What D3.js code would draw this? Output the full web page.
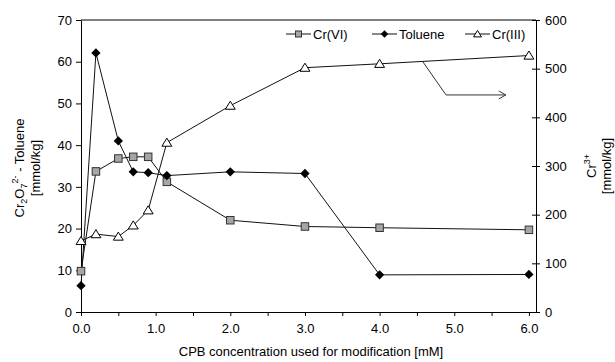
<!DOCTYPE html>
<html>
<head>
<meta charset="utf-8">
<script src="https://cdn.jsdelivr.net/npm/d3@7"></script>
<style>
  body { margin: 0; background: #fff; }
  svg { display: block; font-family: "Liberation Sans", Arial, sans-serif; }
</style>
</head>
<body>
<svg id="chart"></svg>
<script>
// data
const conc = [0, 0.2, 0.5, 0.7, 0.9, 1.15, 2, 3, 4, 6];
const crVI = [9.8, 33.7, 36.8, 37.2, 37.2, 31.2, 22.0, 20.5, 20.2, 19.7];
const toluene = [6.3, 62.1, 41.0, 33.6, 33.4, 32.7, 33.6, 33.2, 8.9, 9.0];
const crIII = [146, 160, 155, 178, 209, 348, 424, 502, 510, 527];
const xTicks = [0, 1, 2, 3, 4, 5, 6];
const yLeftTicks = [0, 10, 20, 30, 40, 50, 60, 70];
const yRightTicks = [0, 100, 200, 300, 400, 500, 600];
const arrowPath = [[4.58, 514], [4.89, 446], [5.69, 446]]; // in (x, Cr(III)) units

const width = 615;
const height = 362;
const margin = ({ top: 20, right: 79, bottom: 50, left: 81 });

const svg = d3.select("#chart")
    .attr("width", width)
    .attr("height", height);

const x = d3.scaleLinear()
    .domain([0, 6.095])
    .range([margin.left, width - margin.right]);

const yL = d3.scaleLinear()
    .domain([0, 70])
    .range([height - margin.bottom, margin.top]);

const yR = d3.scaleLinear()
    .domain([0, 600])
    .range([height - margin.bottom, margin.top]);

// top border of the plot
svg.append("line")
    .attr("x1", margin.left).attr("x2", width - margin.right)
    .attr("y1", margin.top).attr("y2", margin.top)
    .attr("stroke", "#000");

// x axis, minor ticks every 0.5
svg.append("g")
    .attr("transform", `translate(0,${height - margin.bottom})`)
    .call(d3.axisBottom(x).tickValues(d3.range(0, 6.01, 0.5)).tickSize(4).tickSizeOuter(0)
        .tickFormat(d => xTicks.includes(d) ? d.toFixed(1) : ""))
    .call(g => g.selectAll("text").attr("font-size", 13).attr("dy", "1.1em").attr("fill", "#000"));

// left axis
svg.append("g")
    .attr("transform", `translate(${margin.left},0)`)
    .call(d3.axisLeft(yL).tickValues(yLeftTicks).tickSize(5).tickSizeOuter(0).tickPadding(4))
    .call(g => g.selectAll("text").attr("font-size", 13).attr("fill", "#000"));

// right axis, ticks cross the line
svg.append("g")
    .attr("transform", `translate(${width - margin.right},0)`)
    .call(d3.axisRight(yR).tickValues(yRightTicks).tickSize(4).tickSizeOuter(0).tickPadding(5))
    .call(g => g.selectAll(".tick line").attr("x1", -4))
    .call(g => g.selectAll("text").attr("font-size", 13).attr("fill", "#000"));

svg.selectAll(".domain").attr("stroke", "#000");

// lines
const series = [
    { name: "Cr(VI)", values: crVI, y: yL, shape: "square" },
    { name: "Toluene", values: toluene, y: yL, shape: "diamond" },
    { name: "Cr(III)", values: crIII, y: yR, shape: "triangle" }
];

function marker(sel, shape, s) {
    if (shape === "square") {
        sel.append("rect")
            .attr("x", -s / 2).attr("y", -s / 2).attr("width", s).attr("height", s)
            .attr("fill", "#a6a6a6").attr("stroke", "#333").attr("stroke-width", 1);
    } else if (shape === "diamond") {
        const h = s * 0.62;
        sel.append("path")
            .attr("d", `M0,${-h}L${h},0L0,${h}L${-h},0Z`)
            .attr("fill", "#000");
    } else {
        const h = s * 0.6;
        sel.append("path")
            .attr("d", `M0,${-h}L${h * 1.1},${h * 0.8}L${-h * 1.1},${h * 0.8}Z`)
            .attr("fill", "#fff").attr("stroke", "#000").attr("stroke-width", 1);
    }
}

series.forEach(s => {
    const pts = conc.map((c, i) => [x(c), s.y(s.values[i])]);
    svg.append("path")
        .attr("d", d3.line()(pts))
        .attr("fill", "none")
        .attr("stroke", "#111")
        .attr("stroke-width", 1);
});

series.forEach(s => {
    svg.append("g")
        .selectAll("g")
        .data(conc.map((c, i) => [x(c), s.y(s.values[i])]))
        .join("g")
        .attr("transform", d => `translate(${d[0]},${d[1]})`)
        .each(function () { marker(d3.select(this), s.shape, 7.5); });
});

// annotation arrow pointing to right axis
svg.append("path")
    .attr("d", d3.line()(arrowPath.map(p => [x(p[0]), yR(p[1])])))
    .attr("fill", "none").attr("stroke", "#333").attr("stroke-width", 1);
const tip = [x(arrowPath[2][0]), yR(arrowPath[2][1])];
svg.append("path")
    .attr("d", `M${tip[0] - 7},${tip[1] - 4}L${tip[0]},${tip[1]}L${tip[0] - 7},${tip[1] + 4}`)
    .attr("fill", "none").attr("stroke", "#333").attr("stroke-width", 1);

// legend
const legendX = [286, 372, 465];
const legend = svg.append("g").attr("transform", "translate(0,34)");
series.forEach((s, i) => {
    const g = legend.append("g").attr("transform", `translate(${legendX[i]},0)`);
    g.append("line").attr("x1", 0).attr("x2", 25).attr("stroke", "#111");
    const m = g.append("g").attr("transform", "translate(12.5,0)");
    marker(m, s.shape, 6);
    g.append("text")
        .attr("x", 27).attr("dy", "0.36em")
        .attr("font-size", 13)
        .text(s.name);
});

// axis titles
svg.append("text")
    .attr("x", 311)
    .attr("y", 356)
    .attr("text-anchor", "middle")
    .attr("font-size", 13)
    .text("CPB concentration used for modification [mM]");

const lt = svg.append("g").attr("transform", "translate(24,168) rotate(-90)");
const t1 = lt.append("text").attr("text-anchor", "middle").attr("font-size", 13);
t1.append("tspan").text("Cr");
t1.append("tspan").attr("font-size", 9).attr("dy", 3).text("2");
t1.append("tspan").attr("dy", -3).text("O");
t1.append("tspan").attr("font-size", 9).attr("dy", 3).text("7");
t1.append("tspan").attr("font-size", 9).attr("dy", -9).text("2-");
t1.append("tspan").attr("dy", 6).text(" - Toluene");
lt.append("text").attr("text-anchor", "middle").attr("font-size", 13)
    .attr("y", 16).text("[mmol/kg]");

const rt = svg.append("g").attr("transform", "translate(596,166) rotate(-90)");
const t2 = rt.append("text").attr("text-anchor", "middle").attr("font-size", 13);
t2.append("tspan").text("Cr");
t2.append("tspan").attr("font-size", 9).attr("dy", -6).text("3+");
rt.append("text").attr("text-anchor", "middle").attr("font-size", 13)
    .attr("y", 15).text("[mmol/kg]");
</script>
</body>
</html>
